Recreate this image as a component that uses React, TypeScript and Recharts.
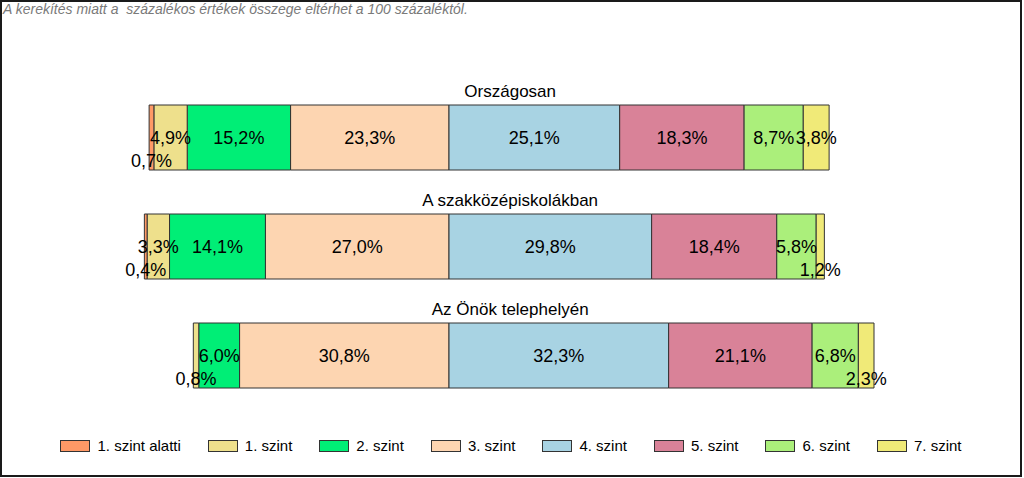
import { BarChart, Bar, XAxis, YAxis, LabelList } from "recharts"

const categories = ["Országosan", "A szakközépiskolákban", "Az Önök telephelyén"]
const levelNames = [
  "1. szint alatti",
  "1. szint",
  "2. szint",
  "3. szint",
  "4. szint",
  "5. szint",
  "6. szint",
  "7. szint",
]
// percentages per level, one entry per category
const belowLevel1 = [0.7, 0.4, 0]
const level1 = [4.9, 3.3, 0.8]
const level2 = [15.2, 14.1, 6.0]
const level3 = [23.3, 27.0, 30.8]
const level4 = [25.1, 29.8, 32.3]
const level5 = [18.3, 18.4, 21.1]
const level6 = [8.7, 5.8, 6.8]
const level7 = [3.8, 1.2, 2.3]

const levelColors = [
  "#FF9966",
  "#EEE08C",
  "#00EE76",
  "#FDD5B1",
  "#A8D3E3",
  "#D98298",
  "#ABEF7B",
  "#F0EA78",
]

const levels = [belowLevel1, level1, level2, level3, level4, level5, level6, level7]
// levels below the 3/4 boundary go to the left (negative)
const data = categories.map((name, i) => {
  const row: Record<string, string | number> = { name }
  levels.forEach((vals, l) => {
    row[`l${l}`] = l < 4 ? -vals[i] : vals[i]
  })
  return row
})

// negative stack grows outward from zero, so the inner level comes first
const stackOrder = [3, 2, 1, 0, 4, 5, 6, 7]

const CHART_W = 1020
const CHART_H = 478
const DOMAIN: [number, number] = [-50, 68]
const PX_PER_PCT = 6.8
const MARGIN = {
  top: 83,
  left: 109,
  bottom: 68,
  right: CHART_W - 109 - (DOMAIN[1] - DOMAIN[0]) * PX_PER_PCT,
}
const PLOT_CENTER = MARGIN.left + (CHART_W - MARGIN.left - MARGIN.right) / 2

const FONT = "'Liberation Sans', Arial, sans-serif"

const fmt = (v: number) => `${Math.abs(v).toFixed(1).replace(".", ",")}%`

function SegmentLabel(props: any) {
  const { x, y, width, height, value } = props
  const v = Number(value)
  if (!v) return null
  const small = Math.abs(v) < 3
  return (
    <text
      x={Number(x) + Number(width) / 2}
      y={Number(y) + Number(height) / 2 + (small ? 23 : 0)}
      textAnchor="middle"
      dominantBaseline="central"
      fontSize={18}
      fontFamily={FONT}
      fill="#000"
    >
      {fmt(v)}
    </text>
  )
}

// category title above each bar, centred on the plot area
function TitleLabel(props: any) {
  const { y, value } = props
  return (
    <text
      x={PLOT_CENTER}
      y={Number(y) - 8}
      textAnchor="middle"
      fontSize={17}
      fontFamily={FONT}
      fill="#000"
    >
      {value}
    </text>
  )
}

export default function App() {
  return (
    <div style={{ position: "absolute", left: 0, top: 0, width: 1024, height: 478, background: "#fff", fontFamily: FONT }}>
      <div
        style={{
          position: "absolute",
          left: 0,
          top: 0,
          width: 1022,
          height: 477,
          border: "2px solid #1a1a1a",
          boxSizing: "border-box",
        }}
      />
      <div
        style={{
          position: "absolute",
          left: 3,
          top: 1,
          fontSize: 14,
          fontStyle: "italic",
          color: "#7a7a7a",
          whiteSpace: "pre",
          lineHeight: "17px",
        }}
      >
        A kerekítés miatt a  százalékos értékek összege eltérhet a 100 százaléktól.
      </div>
      <div style={{ position: "absolute", left: 0, top: 0 }}>
        <BarChart
          width={CHART_W}
          height={CHART_H}
          data={data}
          layout="vertical"
          stackOffset="sign"
          margin={MARGIN}
        >
          <XAxis type="number" domain={DOMAIN} hide />
          <YAxis type="category" dataKey="name" hide />
          {stackOrder.map((l) => (
            <Bar
              key={l}
              dataKey={`l${l}`}
              name={levelNames[l]}
              stackId="a"
              fill={levelColors[l]}
              stroke="#333"
              strokeWidth={1}
              barSize={65}
              isAnimationActive={false}
            >
              <LabelList dataKey={`l${l}`} content={<SegmentLabel />} />
              {l === 4 && <LabelList dataKey="name" content={<TitleLabel />} />}
            </Bar>
          ))}
        </BarChart>
      </div>
      <div
        style={{
          position: "absolute",
          left: 0,
          top: 436,
          width: 1022,
          height: 20,
          display: "flex",
          justifyContent: "center",
          alignItems: "center",
        }}
      >
        {levelNames.map((n, i) => (
          <div
            key={n}
            style={{ display: "flex", alignItems: "center", marginRight: i < levelNames.length - 1 ? 27 : 0 }}
          >
            <div
              style={{
                width: 30,
                height: 12,
                background: levelColors[i],
                border: "1px solid #333",
                boxSizing: "border-box",
                marginRight: 7,
              }}
            />
            <span style={{ fontSize: 15, lineHeight: "20px", color: "#000" }}>{n}</span>
          </div>
        ))}
      </div>
    </div>
  )
}
